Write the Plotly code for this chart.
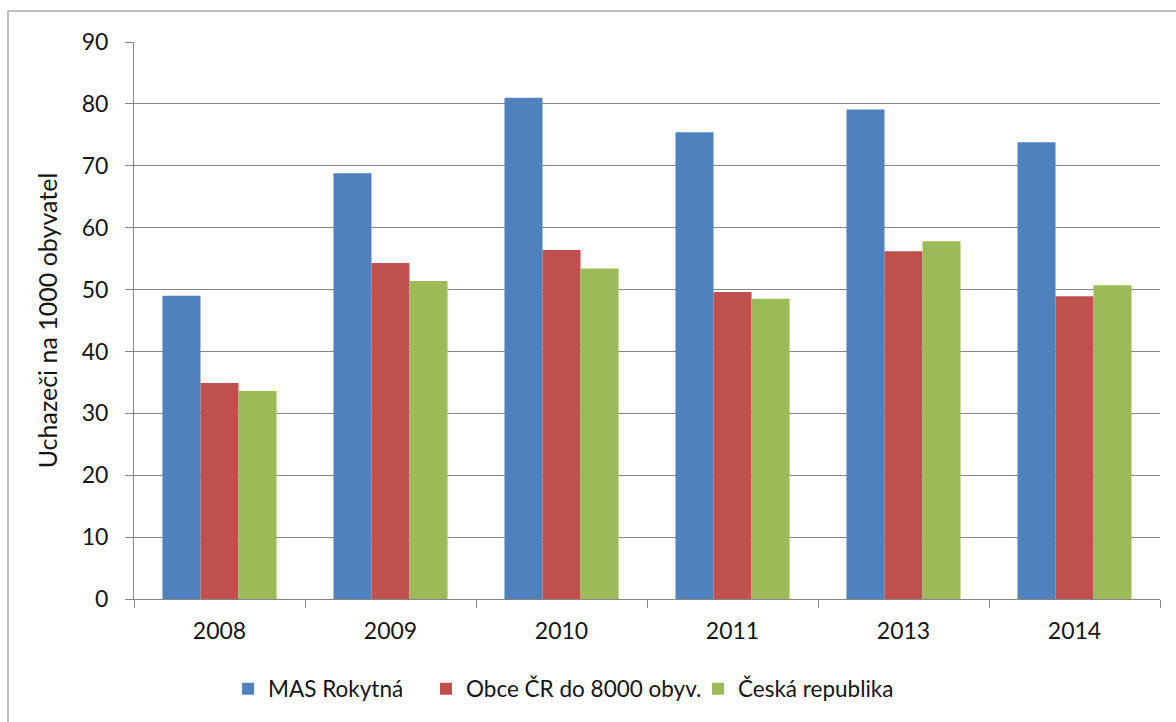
import plotly.graph_objects as go

# Unemployed applicants per 1000 inhabitants
years = ["2008", "2009", "2010", "2011", "2013", "2014"]
mas_rokytna = [49.0, 68.8, 81.0, 75.4, 79.1, 73.8]
obce_do_8000 = [34.9, 54.3, 56.4, 49.6, 56.2, 48.9]
ceska_republika = [33.6, 51.4, 53.4, 48.5, 57.8, 50.7]

series = [
    ("MAS Rokytná", mas_rokytna, "#4F81BD", "legend", 0.0917),
    ("Obce ČR do 8000 obyv.", obce_do_8000, "#C0504D", "legend2", 0.2846),
    ("Česká republika", ceska_republika, "#9BBB59", "legend3", 0.5497),
]

font_family = "Lato, 'Open Sans', sans-serif"
axis_grey = "#868686"

fig = go.Figure()
legends = {}
for name, vals, color, leg, lx in series:
    fig.add_trace(go.Bar(x=years, y=vals, name=name, marker_color=color,
                         marker_line_width=0, legend=leg))
    legends[leg] = dict(orientation="h", x=lx, xanchor="left", y=-0.1616,
                        yanchor="middle", font=dict(size=22.5), itemwidth=30,
                        bgcolor="rgba(0,0,0,0)")

fig.update_layout(
    width=1176, height=722,
    margin=dict(l=134, r=16, t=42, b=123, autoexpand=False),
    paper_bgcolor="white", plot_bgcolor="white",
    barmode="group", bargap=0.333, bargroupgap=0,
    font=dict(family=font_family, size=23, color="#141414"),
    showlegend=True,
    **legends,
)
fig.update_xaxes(
    type="category", showline=True, linecolor=axis_grey, linewidth=1,
    ticks="outside", tickson="boundaries", ticklen=8, tickcolor=axis_grey,
    showgrid=False, tickfont=dict(size=23), ticklabelstandoff=11,
)
fig.update_yaxes(
    range=[0, 90], dtick=10, showline=True, linecolor=axis_grey, linewidth=1,
    ticks="outside", ticklen=8, tickcolor=axis_grey,
    showgrid=True, gridcolor=axis_grey, gridwidth=1, zeroline=False,
    tickfont=dict(size=23), ticklabelstandoff=12,
    title=dict(text="Uchazeči na 1000 obyvatel", font=dict(size=25), standoff=16),
)

# Outer chart frame
fig.add_shape(type="rect", xref="paper", yref="paper",
              x0=-0.1228, x1=1.03, y0=-0.24, y1=1.0557,
              line=dict(color="#BFBFBF", width=2), layer="below")

fig.write_html("out.html")
